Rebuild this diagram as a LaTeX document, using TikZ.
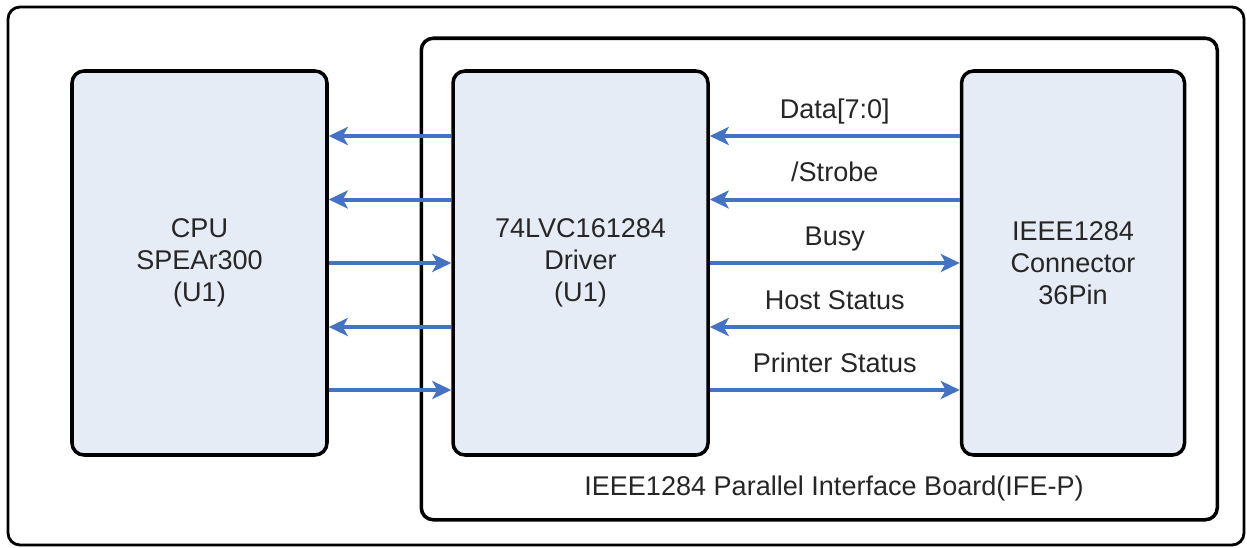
\documentclass[tikz,border=0pt]{standalone}
\usepackage{fontspec}
\setmainfont{Liberation Sans}
\usepackage{xcolor}
\usetikzlibrary{arrows.meta,positioning}
\definecolor{boxfill}{RGB}{230,236,245}
\definecolor{sigblue}{RGB}{68,114,196}

\begin{document}
\begin{tikzpicture}[>={Stealth[length=0.38cm, width=0.36cm, inset=0.1cm]}, every node/.style={align=center, font=\fontsize{15.4}{18.2}\selectfont, text=black!85}, sig/.style={draw=sigblue, line width=0.08cm}]
  \useasboundingbox (0,0) rectangle (24.94,-10.94);
  \draw[line width=1.6pt, rounded corners=0.24cm] (0.16,-0.14) rectangle (24.88,-10.9);
  \node[draw, line width=2pt, rounded corners=0.24cm, fill=boxfill, minimum width=5.1cm, minimum height=7.68cm] (cpu) at (3.99,-5.26) {CPU\\SPEAr300\\(U1)};
  \node[draw, line width=2pt, rounded corners=0.24cm, fill=boxfill, right=2.45cm of cpu, minimum width=5.1cm, minimum height=7.68cm] (driver) {74LVC161284\\Driver\\(U1)};
  \node[draw, line width=2pt, rounded corners=0.24cm, fill=boxfill, right=5.0cm of driver, minimum width=4.46cm, minimum height=7.68cm] (conn) {IEEE1284\\Connector\\36Pin};
  \draw[line width=2pt, rounded corners=0.24cm] ([shift={(-0.6,0.62)}]driver.north west) rectangle ([shift={(0.62,-1.26)}]conn.south east);
  \node[anchor=base] (boardlbl) at (16.68,-9.9) {IEEE1284 Parallel Interface Board(IFE-P)};
  \draw[sig, <-] ([yshift=2.54cm]cpu.east) -- ([yshift=2.54cm]driver.west);
  \draw[sig, <-] ([yshift=1.27cm]cpu.east) -- ([yshift=1.27cm]driver.west);
  \draw[sig, ->] (cpu.east) -- (driver.west);
  \draw[sig, <-] ([yshift=-1.28cm]cpu.east) -- ([yshift=-1.28cm]driver.west);
  \draw[sig, ->] ([yshift=-2.54cm]cpu.east) -- ([yshift=-2.54cm]driver.west);
  \draw[sig, <-] ([yshift=2.54cm]driver.east) -- node[anchor=base, yshift=0.36cm] (lbldata) {Data[7:0]} ([yshift=2.54cm]conn.west);
  \draw[sig, <-] ([yshift=1.27cm]driver.east) -- node[anchor=base, yshift=0.36cm] (lblstrobe) {/Strobe} ([yshift=1.27cm]conn.west);
  \draw[sig, ->] (driver.east) -- node[anchor=base, yshift=0.36cm] (lblbusy) {Busy} (conn.west);
  \draw[sig, <-] ([yshift=-1.28cm]driver.east) -- node[anchor=base, yshift=0.36cm] (lblhost) {Host Status} ([yshift=-1.28cm]conn.west);
  \draw[sig, ->] ([yshift=-2.54cm]driver.east) -- node[anchor=base, yshift=0.36cm] (lblprinter) {Printer Status} ([yshift=-2.54cm]conn.west);
\end{tikzpicture}
\end{document}
